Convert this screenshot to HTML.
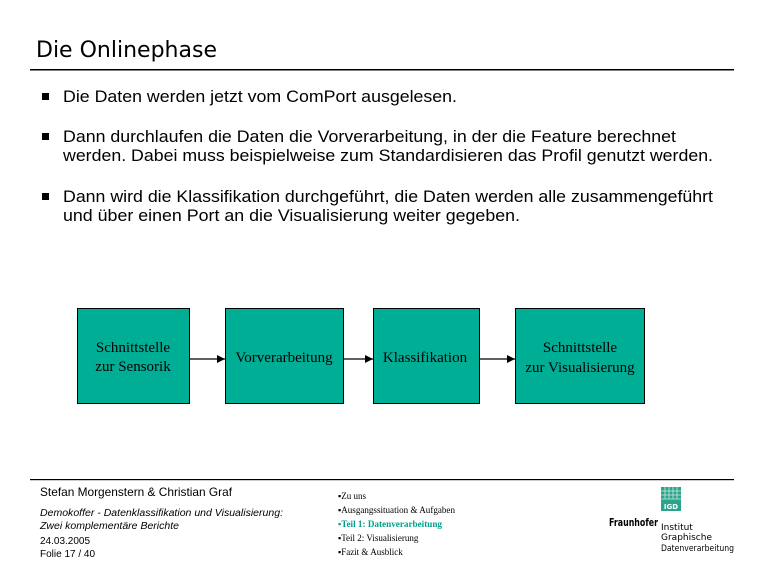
<!DOCTYPE html>
<html><head><meta charset="utf-8"><style>
html,body{margin:0;padding:0;background:#fff;}
svg{display:block}
</style></head><body>
<svg width="768" height="576" viewBox="0 0 768 576" xmlns="http://www.w3.org/2000/svg">
<defs><marker id="ah" markerWidth="8" markerHeight="8" refX="8" refY="4" orient="auto" markerUnits="userSpaceOnUse"><path d="M0,0 L8,4 L0,8 z" fill="#000"/></marker></defs>
<rect width="768" height="576" fill="#fff"/>
<text x="36" y="57" font-family="DejaVu Sans, sans-serif" font-size="22" textLength="181" lengthAdjust="spacingAndGlyphs">Die Onlinephase</text>
<rect x="30" y="69" width="704" height="1.5" fill="#000"/>
<g font-family="Liberation Sans, Arial, sans-serif" font-size="17" fill="#000">
<rect x="42" y="93" width="7" height="7"/>
<text x="63" y="102" textLength="394" lengthAdjust="spacingAndGlyphs">Die Daten werden jetzt vom ComPort ausgelesen.</text>
<rect x="42" y="133" width="7" height="7"/>
<text x="63" y="142" textLength="613" lengthAdjust="spacingAndGlyphs">Dann durchlaufen die Daten die Vorverarbeitung, in der die Feature berechnet</text>
<text x="63" y="161" textLength="650" lengthAdjust="spacingAndGlyphs">werden. Dabei muss beispielweise zum Standardisieren das Profil genutzt werden.</text>
<rect x="42" y="193" width="7" height="7"/>
<text x="63" y="202" textLength="650" lengthAdjust="spacingAndGlyphs">Dann wird die Klassifikation durchgeführt, die Daten werden alle zusammengeführt</text>
<text x="63" y="221" textLength="457" lengthAdjust="spacingAndGlyphs">und über einen Port an die Visualisierung weiter gegeben.</text>
</g>
<g fill="#00ae96" stroke="#000" stroke-width="1">
<rect x="77.5" y="308.5" width="112" height="95"/>
<rect x="225.5" y="308.5" width="118" height="95"/>
<rect x="373.5" y="308.5" width="106" height="95"/>
<rect x="515.5" y="308.5" width="129" height="95"/>
</g>
<g stroke="#000" stroke-width="1.2">
<line x1="189.5" y1="359" x2="225" y2="359" marker-end="url(#ah)"/>
<line x1="343.5" y1="359" x2="373" y2="359" marker-end="url(#ah)"/>
<line x1="479.5" y1="359" x2="515" y2="359" marker-end="url(#ah)"/>
</g>
<g font-family="Liberation Serif, serif" font-size="15" fill="#000" text-anchor="middle">
<text x="133" y="352">Schnittstelle</text>
<text x="133" y="371">zur Sensorik</text>
<text x="284" y="362">Vorverarbeitung</text>
<text x="425" y="362">Klassifikation</text>
<text x="580" y="352">Schnittstelle</text>
<text x="580" y="372">zur Visualisierung</text>
</g>
<rect x="30" y="479" width="704" height="1.2" fill="#000"/>
<g font-family="Liberation Sans, sans-serif" fill="#000">
<text x="40" y="496" font-size="12" textLength="192" lengthAdjust="spacingAndGlyphs">Stefan Morgenstern &amp; Christian Graf</text>
<text x="40" y="516" font-size="10" font-style="italic" textLength="243" lengthAdjust="spacingAndGlyphs">Demokoffer - Datenklassifikation und Visualisierung:</text>
<text x="40" y="529" font-size="10" font-style="italic" textLength="139" lengthAdjust="spacingAndGlyphs">Zwei komplementäre Berichte</text>
<text x="40" y="544" font-size="10">24.03.2005</text>
<text x="40" y="557" font-size="10">Folie 17 / 40</text>
</g>
<g font-family="Liberation Serif, serif" font-size="9" fill="#000">
<text x="338" y="499">▪Zu uns</text>
<text x="338" y="513" textLength="117" lengthAdjust="spacingAndGlyphs">▪Ausgangssituation &amp; Aufgaben</text>
<text x="338" y="527" fill="#00a088" font-weight="bold" textLength="104" lengthAdjust="spacingAndGlyphs">▪Teil 1: Datenverarbeitung</text>
<text x="338" y="541">▪Teil 2: Visualisierung</text>
<text x="338" y="555">▪Fazit &amp; Ausblick</text>
</g>
<rect x="661" y="487" width="20" height="24" fill="#2aa58a"/>
<g stroke="#cfe9e0" stroke-width="0.8">
<line x1="665" y1="487" x2="665" y2="499"/><line x1="669" y1="487" x2="669" y2="499"/>
<line x1="673" y1="487" x2="673" y2="499"/><line x1="677" y1="487" x2="677" y2="499"/>
<line x1="661" y1="491" x2="681" y2="491"/><line x1="661" y1="495" x2="681" y2="495"/>
<line x1="661" y1="499" x2="681" y2="499"/>
</g>
<text x="671" y="509" font-family="DejaVu Sans, sans-serif" font-size="7" font-weight="bold" fill="#fff" text-anchor="middle">IGD</text>
<g font-family="DejaVu Sans, sans-serif" fill="#000">
<text x="609" y="526" font-size="10.5" font-weight="bold" textLength="49" lengthAdjust="spacingAndGlyphs">Fraunhofer</text>
<text x="661" y="530" font-size="9">Institut</text>
<text x="661" y="540" font-size="9">Graphische</text>
<text x="661" y="551" font-size="9" textLength="73" lengthAdjust="spacingAndGlyphs">Datenverarbeitung</text>
</g>
</svg>
</body></html>
